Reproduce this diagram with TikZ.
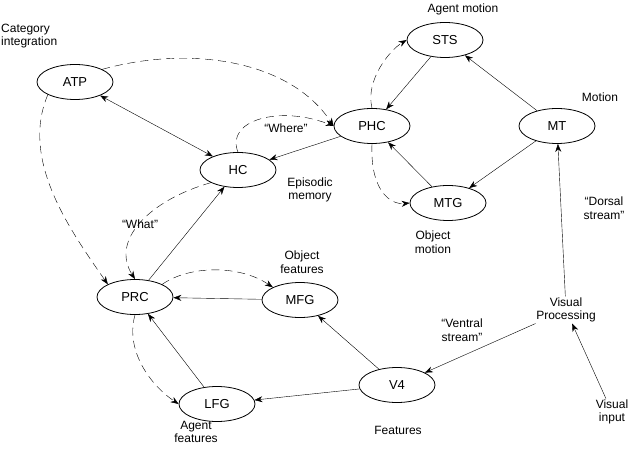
\documentclass[tikz,border=0pt]{standalone}
\usepackage{fontspec}
\setmainfont{Liberation Sans}
\usetikzlibrary{shapes.geometric,arrows.meta}
\begin{document}
\begin{tikzpicture}[x=1pt,y=-1pt,
 el/.style={ellipse,draw,line width=0.8pt,minimum width=76pt,minimum height=35pt,inner sep=1pt,font=\fontsize{13}{15}\selectfont},
 lb/.style={font=\fontsize{12}{13.5}\selectfont,align=center,inner sep=1pt},
 ar/.style={-{Stealth[length=8pt,width=6pt]},thin},
 da/.style={ar,dashed,dash pattern=on 8pt off 5pt}]
\useasboundingbox (0,0) rectangle (640,449);
\node[el] (ATP) at (75,82) {ATP};
\node[el] (HC) at (238,170) {HC};
\node[el] (PHC) at (372,126) {PHC};
\node[el] (STS) at (445,40) {STS};
\node[el] (MT) at (557,126) {MT};
\node[el] (MTG) at (448,203) {MTG};
\node[el] (PRC) at (135,297) {PRC};
\node[el] (MFG) at (300,300) {MFG};
\node[el] (LFG) at (217,404) {LFG};
\node[el] (V4) at (397,385) {V4};
\node[lb] (VP) at (566,310) {Visual\\Processing};
\node[lb] (VI) at (612,412) {Visual\\input};
\node[lb,align=left,anchor=west] (l1) at (0,36) {Category\\integration};
\node[lb] (l2) at (463,9) {Agent motion};
\node[lb] (l3) at (600,97) {Motion};
\node[lb] (l4) at (310,190) {Episodic\\memory};
\node[lb] (l5) at (286,128) {“Where”};
\node[lb] (l6) at (140,224) {“What”};
\node[lb] (l7) at (433,242) {Object\\motion};
\node[lb] (l8) at (302,262) {Object\\features};
\node[lb] (l9) at (462,330) {“Ventral\\stream”};
\node[lb] (l10) at (604,208) {“Dorsal\\stream”};
\node[lb] (l11) at (196,432) {Agent\\features};
\node[lb] (l12) at (398,430) {Features};
\draw[ar,{Stealth[length=8pt,width=6pt]}-{Stealth[length=8pt,width=6pt]}] (ATP) -- (HC);
\draw[da] (ATP.north east) .. controls (190,45) and (290,60) .. (PHC.west);
\draw[da] (ATP.south west) .. controls (20,160) and (70,230) .. (PRC.north west);
\draw[da] (HC.north) .. controls (225,120) and (280,105) .. (PHC.west);
\draw[ar] (PHC) -- (HC);
\draw[da] (HC.south west) .. controls (150,200) and (110,240) .. (PRC.north);
\draw[ar] (PRC) -- (HC);
\draw[da] (PHC.north) .. controls (365,80) and (390,50) .. (STS.west);
\draw[ar] (STS) -- (PHC);
\draw[ar] (MT) -- (STS);
\draw[ar] (MT) -- (MTG);
\draw[ar] (MTG) -- (PHC);
\draw[da] (PHC.south) .. controls (370,190) and (390,205) .. (MTG.west);
\draw[ar] (VP) -- (MT);
\draw[ar] (VI) -- (VP);
\draw[ar] (VP) -- (V4);
\draw[ar] (V4) -- (MFG);
\draw[ar] (V4) -- (LFG);
\draw[ar] (MFG) -- (PRC);
\draw[da] (PRC.north east) .. controls (190,265) and (240,265) .. (MFG.north west);
\draw[ar] (LFG) -- (PRC);
\draw[da] (PRC.south) .. controls (125,350) and (150,385) .. (LFG.west);
\end{tikzpicture}
\end{document}
